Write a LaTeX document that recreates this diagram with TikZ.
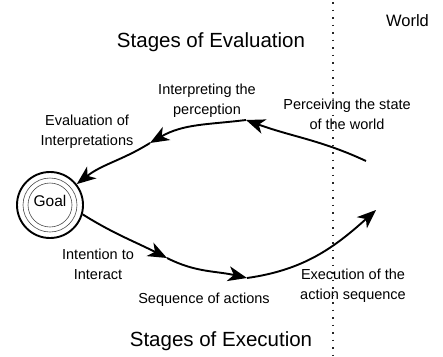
\documentclass[tikz,border=0pt]{standalone}
\usepackage{fontspec}
\setmainfont{Liberation Sans}
\usetikzlibrary{arrows.meta}
\begin{document}
\begin{tikzpicture}[x=1pt,y=-1pt,
  label/.style={font=\fontsize{14.5}{20}\selectfont, align=center, inner sep=0pt},
  title/.style={font=\fontsize{20.5}{24}\selectfont, inner sep=0pt, anchor=base},
  flow/.style={line width=1.9pt, -{Stealth[length=19pt,width=15pt,inset=5.5pt]}},
  boundary/.style={line width=1.6pt, dash pattern=on 1.6pt off 5.9pt, black!85},
  ring/.style={draw=black!70, line width=0.6pt}]
\useasboundingbox (0,0) rectangle (443,356);

% goal with its rings
\node[circle, draw, line width=1.9pt, minimum size=66pt, inner sep=0pt,
      font=\fontsize{15.5}{20}\selectfont, text height=11pt, text depth=7.5pt]
      (goal) at (50,205) {Goal};
\draw[ring] (goal.center) circle[radius=27pt];
\draw[ring] (goal.center) circle[radius=22pt];

% headings
\node[title] (evalt) at (211,47.5) {Stages of Evaluation};
\node[title] (exect) at (221,346) {Stages of Execution};
\node[font=\fontsize{16.5}{20}\selectfont, inner sep=0pt, anchor=base] (world) at (407.5,26.7) {World};

% stage labels
\node[label] (interp) at (207,100.5) {Interpreting the\\perception};
\node[label] (evall) at (87,131.7) {Evaluation of\\Interpretations};
\node[label] (perc) at (347,114.7) {Perceiving the state\\of the world};
\node[label] (intent) at (98,264) {Intention to\\Interact};
\node[label, anchor=base] (seq) at (204,303.3) {Sequence of actions};
\node[label] (execl) at (353,285.5) {Execution of the\\action sequence};

% boundary between user and world
\coordinate (wt) at (333,2);
\coordinate (wb) at (333,356);
\draw[boundary] (wt) -- (wb);

% points along the cycle
\coordinate (pw) at (366,161);
\coordinate (pi) at (246,120);
\coordinate (pe) at (150,143);
\coordinate (ii) at (167,258);
\coordinate (sa) at (247,278);
\coordinate (ex) at (376,210);

% evaluation side
\draw[flow] (pw) to[out=155,in=-20] (pi);
\draw[flow] (pi) to[out=187,in=30] (pe);
\draw[flow] (pe) to[out=212,in=38] (goal);

% execution side
\draw[flow] (goal.-16) to[out=-32,in=153] (ii);
\draw[flow] (ii) to[out=-27,in=167] (sa);
\draw[flow] (sa) to[out=8,in=-138] (ex);
\end{tikzpicture}
\end{document}
